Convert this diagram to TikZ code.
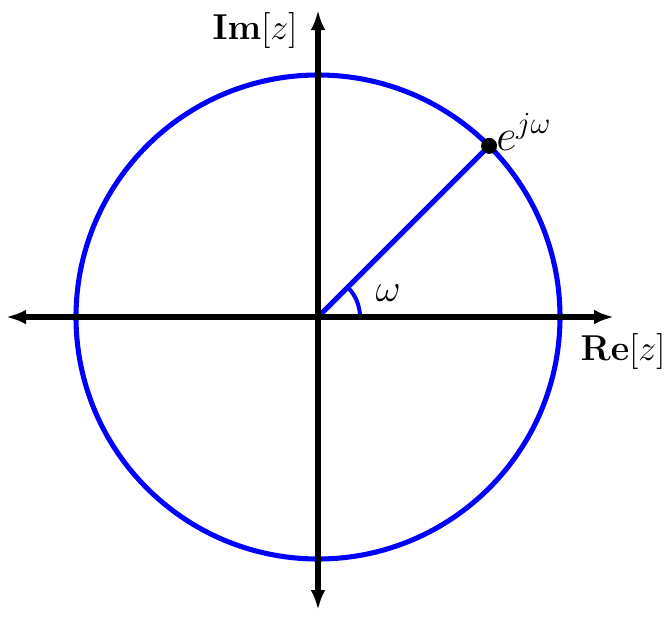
\documentclass[tikz,border=0pt]{standalone}
\usepackage{graphicx}
\usetikzlibrary{arrows.meta}
\newcommand{\myenlarge}[2][1.3]{\scalebox{#1}{#2}}
\begin{document}
\begin{tikzpicture}[x=0.75pt,y=-0.75pt,
  axis/.style={line width=4.6pt,-{Latex[length=15pt,width=11pt]}},
  bluel/.style={blue,line width=3.8pt},
  lbl/.style={font=\fontsize{22}{26}\selectfont,inner sep=0pt}]
\useasboundingbox (0,0) rectangle (667,625);
\coordinate (O) at (318,317);
\coordinate (L) at (6,317);
\coordinate (R) at (614,317);
\coordinate (T) at (318,10);
\coordinate (B) at (318,610);
\coordinate (P) at (489.1,145.9);
\draw[bluel] (O) circle[radius=181.5pt];
\draw[bluel] (O) -- (P);
\draw[bluel,line width=3pt] (360,317) arc[start angle=0,end angle=45,radius=31.5pt];
\draw[axis] (O) -- (L);
\draw[axis] (O) -- (R);
\draw[axis] (O) -- (T);
\draw[axis] (O) -- (B);
\fill (P) circle[radius=6pt];
\node[lbl,anchor=base west] (ejw) at (496,150) {\myenlarge[1.6]{$e^{j\omega}$}};
\node[lbl] (w) at (388,293) {\myenlarge[1.4]{$\omega$}};
\node[lbl] (im) at (255,31) {\myenlarge{$\mathbf{Im}[z]$}};
\node[lbl] (re) at (623,352) {\myenlarge{$\mathbf{Re}[z]$}};
\end{tikzpicture}
\end{document}
